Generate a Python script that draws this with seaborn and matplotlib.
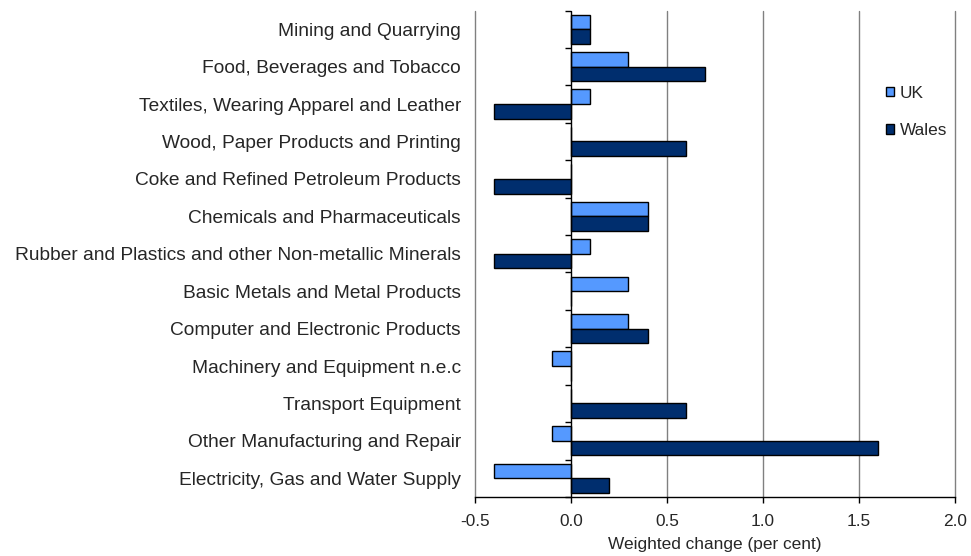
"""Weighted change by manufacturing sector, UK vs Wales."""

import matplotlib

matplotlib.use("Agg")
import matplotlib.pyplot as plt
import numpy as np
import pandas as pd
import seaborn as sns

# Data
sectors = [
    "Mining and Quarrying",
    "Food, Beverages and Tobacco",
    "Textiles, Wearing Apparel and Leather",
    "Wood, Paper Products and Printing",
    "Coke and Refined Petroleum Products",
    "Chemicals and Pharmaceuticals",
    "Rubber and Plastics and other Non-metallic Minerals",
    "Basic Metals and Metal Products",
    "Computer and Electronic Products",
    "Machinery and Equipment n.e.c",
    "Transport Equipment",
    "Other Manufacturing and Repair",
    "Electricity, Gas and Water Supply",
]
uk_values = [0.1, 0.3, 0.1, 0.0, 0.0, 0.4, 0.1, 0.3, 0.3, -0.1, 0.0, -0.1, -0.4]
wales_values = [0.1, 0.7, -0.4, 0.6, -0.4, 0.4, -0.4, 0.0, 0.4, 0.0, 0.6, 1.6, 0.2]
series_names = ["UK", "Wales"]
x_ticks = [-0.5, 0.0, 0.5, 1.0, 1.5, 2.0]

palette = {"UK": "#5599FF", "Wales": "#002E6E"}

# Long-form table
plot_df = pd.DataFrame(
    {
        "Sector": sectors * 2,
        "Series": ["UK"] * len(sectors) + ["Wales"] * len(sectors),
        "Value": uk_values + wales_values,
    }
)

sns.set_style("white")
plt.rcParams["font.family"] = ["Liberation Sans", "DejaVu Sans"]

fig = plt.figure(figsize=(9.71, 5.56), dpi=100)
ax = fig.add_axes([0.489, 0.1061, 0.4945, 0.875])

sns.barplot(
    data=plot_df,
    y="Sector",
    x="Value",
    hue="Series",
    hue_order=series_names,
    order=sectors,
    palette=palette,
    saturation=1,
    orient="h",
    width=0.78,
    edgecolor="black",
    linewidth=1,
    errorbar=None,
    ax=ax,
)

# Axes limits and grid
ax.set_xlim(-0.5, 2.0)
ax.set_ylim(len(sectors) - 0.5, -0.5)
ax.set_xticks(x_ticks)
ax.set_xticklabels([f"{t:.1f}" for t in x_ticks], fontsize=12.4)
ax.set_axisbelow(True)
for t in x_ticks:
    if t != 0:
        ax.axvline(t, color="#808080", linewidth=1, zorder=0, clip_on=False)
ax.axvline(0, color="black", linewidth=1, zorder=3)

for side in ["top", "right", "left"]:
    ax.spines[side].set_visible(False)
ax.spines["bottom"].set_color("black")
ax.spines["bottom"].set_linewidth(1)
ax.tick_params(axis="x", direction="out", length=4, width=1, color="black",
               bottom=True, pad=8)
ax.tick_params(axis="y", length=0, labelsize=13.8, pad=10)

# Category boundary ticks on the zero axis
sec = ax.secondary_yaxis(0.2)
sec.spines["left"].set_visible(False)
sec.set_yticks(np.arange(-0.5, len(sectors), 1.0))
sec.set_yticklabels([])
sec.tick_params(axis="y", direction="out", length=4, width=1, color="black")

ax.set_ylabel("")
ax.set_xlabel("Weighted change (per cent)", fontsize=12.4, labelpad=6)

# Legend
handles, labels = ax.get_legend_handles_labels()
ax.legend(
    handles,
    labels,
    loc="upper left",
    bbox_to_anchor=(0.9125, 0.846),
    bbox_transform=fig.transFigure,
    frameon=False,
    fontsize=12.4,
    borderpad=0,
    borderaxespad=0,
    handlelength=0.45,
    handleheight=0.45,
    handletextpad=0.35,
    labelspacing=1.3,
)

plt.savefig("out.png", dpi=100)
plt.close()
